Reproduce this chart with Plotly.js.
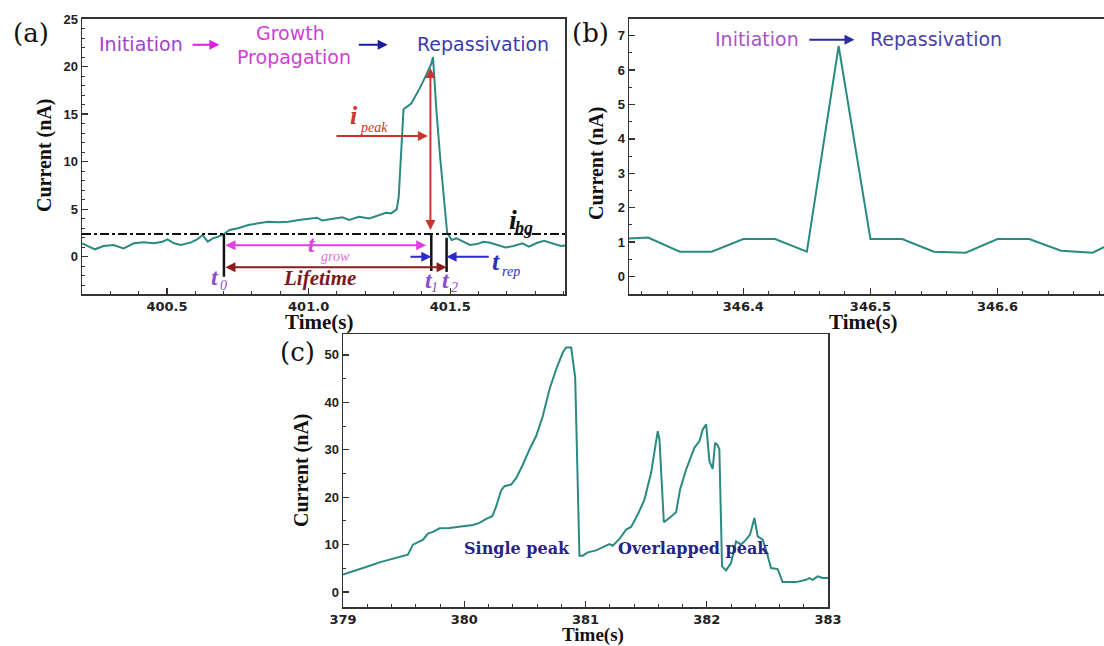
<!DOCTYPE html>
<html><head><meta charset="utf-8">
<script src="https://cdn.plot.ly/plotly-3.0.1.min.js"></script>
<style>html,body{margin:0;padding:0;overflow:hidden;background:#fff}</style>
</head><body><div id="chart" style="width:1110px;height:646px"></div>
<script>
// ---------- data ----------
const timeA = [400.200,400.246,400.276,400.311,400.347,400.383,400.418,400.454,400.484,400.502,400.525,400.549,400.585,400.608,400.626,400.644,400.662,400.680,400.701,400.721,400.751,400.787,400.822,400.858,400.893,400.929,400.965,401.000,401.030,401.048,401.083,401.119,401.143,401.178,401.214,401.237,401.273,401.291,401.311,401.318,401.335,401.362,401.392,401.415,401.433,401.439,401.451,401.465,401.481,401.489,401.505,401.522,401.546,401.570,401.594,401.617,401.641,401.665,401.695,401.724,401.754,401.778,401.807,401.831,401.861,401.891,401.920];
const currentA = [1.41,0.78,1.13,1.23,0.88,1.41,1.51,1.41,1.58,1.83,1.41,1.23,1.51,1.86,2.28,1.58,1.93,2.10,2.39,2.81,2.99,3.33,3.51,3.68,3.62,3.68,3.86,3.96,4.10,3.80,3.96,4.14,3.86,4.20,4.03,4.28,4.63,4.56,4.98,6.30,15.5,16.1,17.7,19.1,20.3,21.0,15.4,10.2,5.26,2.52,1.76,1.93,1.58,1.23,1.33,1.58,1.47,1.23,0.98,1.12,1.40,1.05,1.47,1.68,1.40,1.12,1.23];

const timeB = [346.300,346.325,346.350,346.375,346.400,346.425,346.450,346.475,346.500,346.525,346.550,346.575,346.600,346.625,346.650,346.675,346.700];
const currentB = [1.08,1.13,0.72,0.72,1.09,1.09,0.72,6.70,1.09,1.09,0.72,0.69,1.09,1.09,0.75,0.69,1.15];

const timeC = [379.0,379.11,379.19,379.30,379.385,379.44,379.535,379.577,379.618,379.66,379.70,379.742,379.797,379.879,379.989,380.071,380.126,380.181,380.231,380.264,380.305,380.332,380.387,380.429,380.484,380.538,380.593,380.648,380.703,380.758,380.813,380.84,380.882,380.915,380.95,380.978,381.019,381.088,381.157,381.198,381.225,381.28,381.335,381.376,381.431,381.486,381.541,381.577,381.596,381.61,381.646,381.692,381.747,381.78,381.83,381.898,381.94,381.967,381.995,382.022,382.049,382.069,382.091,382.104,382.126,382.159,382.2,382.242,382.283,382.324,382.357,382.393,382.42,382.462,382.489,382.53,382.585,382.626,382.736,382.819,382.846,382.874,382.915,382.956,383.0];
const currentC = [3.7,4.58,5.28,6.27,6.83,7.11,7.89,10.0,10.56,11.06,12.32,12.68,13.45,13.52,13.87,14.15,14.58,15.42,15.99,18.1,21.48,22.32,22.68,24.08,26.9,30.07,32.89,37.11,42.75,46.97,50.49,51.55,51.55,45.2,7.68,7.68,8.38,8.8,9.65,10.14,9.79,11.2,13.17,13.73,16.34,19.5,25.14,31.48,33.94,32.2,14.72,15.63,16.83,21.62,25.85,30.42,31.83,34.3,35.35,27.6,25.99,31.48,30.92,30.07,5.42,4.58,6.13,10.7,10.0,11.06,12.11,15.63,11.76,11.06,8.94,5.07,4.86,2.11,2.11,2.6,2.96,2.6,3.31,2.96,2.96];

// event markers in panel (a): t0, t1, t2 and background current
const eventTimes = [400.701, 401.433, 401.487];
const iBackground = 2.4;
const iPeakTop = 20.0;

// ---------- layout helpers ----------
const W = 1110, H = 646;
const px = v => v / W;
const py = v => 1 - v / H;
const LINE = '#2b8a80';
const AX = '#333';

function xAxis(d0, d1, range, dtick, tick0, minor, fmt, anchor) {
  return {domain:[px(d0), px(d1)], range, anchor, dtick, tick0, tickformat: fmt,
    showgrid:false, zeroline:false, showline:true, linecolor:AX, linewidth:1.5, mirror:true,
    ticks:'inside', ticklen:6, tickwidth:1.3, tickcolor:AX,
    tickfont:{family:'DejaVu Sans', size:13, color:'#222', weight:'bold'},
    minor:{dtick:minor, ticks:'inside', ticklen:3, tickwidth:1, tickcolor:AX, showgrid:false}};
}
function yAxis(t, b, range, dtick, minor, anchor) {
  return {domain:[py(b), py(t)], range, anchor, dtick, tick0:0,
    showgrid:false, zeroline:false, showline:true, linecolor:AX, linewidth:1.5, mirror:true,
    ticks:'inside', ticklen:6, tickwidth:1.3, tickcolor:AX,
    tickfont:{family:'Liberation Sans', size:13, color:'#222', weight:'bold'},
    minor:{dtick:minor, ticks:'inside', ticklen:3, tickwidth:1, tickcolor:AX, showgrid:false}};
}

const traces = [
  {x:timeA, y:currentA, xaxis:'x', yaxis:'y', mode:'lines', line:{color:LINE, width:2}, hoverinfo:'skip', showlegend:false},
  {x:timeB, y:currentB, xaxis:'x2', yaxis:'y2', mode:'lines', line:{color:LINE, width:2}, hoverinfo:'skip', showlegend:false},
  {x:timeC, y:currentC, xaxis:'x3', yaxis:'y3', mode:'lines', line:{color:LINE, width:2}, hoverinfo:'skip', showlegend:false}
];

// text helper (data coords)
function T(xr, yr, x, y, text, size, color, family, opts) {
  return Object.assign({xref:xr, yref:yr, x, y, text, showarrow:false,
    font:{family:family||'DejaVu Sans', size, color}, xanchor:'center', yanchor:'middle'}, opts||{});
}
function A(xr, yr, x, y, ax, ay, color, both) {
  const a = {xref:xr, yref:yr, axref:xr, ayref:yr, x, y, ax, ay, text:'', showarrow:true,
    arrowcolor:color, arrowwidth:2, arrowhead:2, arrowsize:1};
  if (both) { a.arrowside = 'end+start'; a.startarrowhead = 2; a.startarrowsize = 1; }
  return a;
}
function P(x, y, text, size, opts) {
  return Object.assign({xref:'paper', yref:'paper', x:px(x), y:py(y), text, showarrow:false,
    font:{family:'Liberation Serif', size, color:'#111', weight:'bold'}, xanchor:'center', yanchor:'middle'}, opts||{});
}
const serif = 'Liberation Serif';
const it = (s) => '<i>' + s + '</i>';
const bi = (s) => '<b><i>' + s + '</i></b>';

const [t0, t1, t2] = eventTimes;

const annotations = [
  // panel (a) header
  T('x','y', 400.409, 22.4, 'Initiation', 19, '#a33fd0'),
  A('x','y', 400.685, 22.3, 400.585, 22.3, '#e020e0'),
  T('x','y', 400.935, 23.5, 'Growth', 19, '#d03fd0'),
  T('x','y', 400.950, 21.0, 'Propagation', 19, '#d03fd0'),
  A('x','y', 401.279, 22.3, 401.172, 22.3, '#1c1ca0'),
  T('x','y', 401.614, 22.4, 'Repassivation', 19, '#3b3bb0'),
  // i_peak
  A('x','y', t1 - 0.003, 2.8, t1 - 0.003, iPeakTop, '#c8352e', true),
  A('x','y', 401.421, 12.7, 401.093, 12.7, '#c8352e'),
  T('x','y', 401.16, 14.9, bi('i'), 26, '#c8352e', serif),
  T('x','y', 401.232, 13.6, it('peak'), 14, '#c8352e', serif),
  // t_grow
  A('x','y', t1 - 0.018, 1.2, t0, 1.2, '#e040e0', true),
  T('x','y', 401.012, 1.35, bi('t'), 24, '#e040e0', serif),
  T('x','y', 401.094, 0.05, it('grow'), 14, '#e070e0', serif),
  // lifetime
  A('x','y', t2, -1.12, t0, -1.12, '#8b1c1c', true),
  T('x','y', 401.038, -2.27, bi('Lifetime'), 21, '#7a1a1a', serif),
  // t_rep
  A('x','y', t1, 0.0, 401.354, 0.0, '#2a2ad0'),
  A('x','y', t2, 0.0, 401.641, 0.0, '#2a2ad0'),
  T('x','y', 401.662, -0.5, bi('t'), 26, '#3030c0', serif),
  T('x','y', 401.714, -1.55, it('rep'), 14, '#3030c0', serif),
  // t0, t1, t2 labels
  T('x','y', 400.668, -2.15, bi('t'), 24, '#8a4fd0', serif),
  T('x','y', 400.699, -3.05, it('0'), 14, '#8a4fd0', serif),
  T('x','y', 401.424, -2.4, bi('t'), 24, '#8a4fd0', serif),
  T('x','y', 401.446, -3.25, it('1'), 14, '#8a4fd0', serif),
  T('x','y', 401.486, -2.4, bi('t'), 24, '#8a4fd0', serif),
  T('x','y', 401.515, -3.25, it('2'), 14, '#8a4fd0', serif),
  // i_bg
  T('x','y', 401.72, 3.95, bi('i'), 28, '#111', serif),
  T('x','y', 401.762, 3.0, bi('bg'), 18, '#111', serif),
  // panel (b)
  T('x2','y2', 346.4105, 6.89, 'Initiation', 19, '#a852c8'),
  A('x2','y2', 346.4875, 6.88, 346.4507, 6.88, '#2a2aa0'),
  T('x2','y2', 346.552, 6.89, 'Repassivation', 19, '#4a40a8'),
  // panel (c)
  T('x3','y3', 380.434, 9.15, '<b>Single peak</b>', 16, '#252585', 'DejaVu Serif'),
  T('x3','y3', 381.89, 9.15, '<b>Overlapped peak</b>', 16, '#252585', 'DejaVu Serif'),
  // panel labels
  P(31, 33, '(a)', 26, {font:{family:'DejaVu Serif', size:26, color:'#111'}}),
  P(590, 33, '(b)', 26, {font:{family:'DejaVu Serif', size:26, color:'#111'}}),
  P(297, 352, '(c)', 26, {font:{family:'DejaVu Serif', size:26, color:'#111'}}),
  // axis titles
  P(44, 155, 'Current (nA)', 20, {textangle:-90}),
  P(596, 163, 'Current (nA)', 20, {textangle:-90}),
  P(301, 470, 'Current (nA)', 20, {textangle:-90}),
  P(319, 322, 'Time(s)', 21),
  P(863, 322, 'Time(s)', 21),
  P(593, 648, 'Time(s)', 19, {yanchor:'bottom'})
];

const shapes = [
  {type:'line', xref:'x', yref:'y', x0:400.2, x1:401.905, y0:iBackground, y1:iBackground, line:{color:'#111', width:2, dash:'dashdot'}},
  {type:'line', xref:'x', yref:'y', x0:t0, x1:t0, y0:iBackground, y1:-2.1, line:{color:'#111', width:2.5}},
  {type:'line', xref:'x', yref:'y', x0:t1, x1:t1, y0:iBackground, y1:-1.5, line:{color:'#111', width:2.5}},
  {type:'line', xref:'x', yref:'y', x0:t2, x1:t2, y0:2.0, y1:-1.6, line:{color:'#111', width:2.5}}
];

const layout = {
  width:W, height:H, margin:{l:0, r:0, t:0, b:0}, paper_bgcolor:'#fff', plot_bgcolor:'#fff',
  showlegend:false,
  xaxis:  xAxis(82, 565, [400.2, 401.905], 0.5, 400.5, 0.1, '.1f', 'y'),
  yaxis:  yAxis(18.5, 294, [-3.92, 25.05], 5, 1, 'x'),
  xaxis2: xAxis(629, 1108, [346.31, 346.687], 0.1, 346.3, 0.02, '.1f', 'y2'),
  yaxis2: yAxis(18.5, 294, [-0.51, 7.5], 1, 0.5, 'x2'),
  xaxis3: xAxis(343, 828, [379, 383], 1, 379, 0.2, 'd', 'y3'),
  yaxis3: yAxis(334, 607.3, [-3.2, 54.4], 10, 5, 'x3'),
  annotations, shapes
};

Plotly.newPlot('chart', traces, layout, {staticPlot:true, displayModeBar:false});
</script></body></html>
